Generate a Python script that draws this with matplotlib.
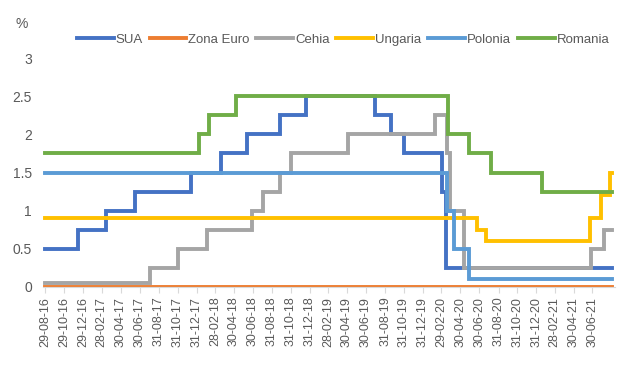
import matplotlib
matplotlib.use("Agg")
import matplotlib.pyplot as plt
import pandas as pd

# ---- data: step change dates and policy rates (%) ----
start_date = "2016-08-29"
end_date = "2021-08-31"

sua_dates = ["2016-08-29", "2016-12-14", "2017-03-15", "2017-06-14", "2017-12-13",
             "2018-03-21", "2018-06-13", "2018-09-26", "2018-12-19", "2019-07-31",
             "2019-09-18", "2019-10-30", "2020-03-03", "2020-03-16"]
sua_vals = [0.5, 0.75, 1.0, 1.25, 1.5, 1.75, 2.0, 2.25, 2.5, 2.25, 2.0, 1.75, 1.25, 0.25]

euro_dates = ["2016-08-29"]
euro_vals = [0.0]

cehia_dates = ["2016-08-29", "2017-08-03", "2017-11-02", "2018-02-01", "2018-06-27",
               "2018-08-02", "2018-09-27", "2018-11-02", "2019-05-03", "2020-02-07",
               "2020-03-17", "2020-03-27", "2020-05-11", "2021-06-24", "2021-08-06"]
cehia_vals = [0.05, 0.25, 0.5, 0.75, 1.0, 1.25, 1.5, 1.75, 2.0, 2.25, 1.75, 1.0, 0.25, 0.5, 0.75]

ungaria_dates = ["2016-08-29", "2020-06-24", "2020-07-22", "2021-06-23", "2021-07-28", "2021-08-25"]
ungaria_vals = [0.9, 0.75, 0.6, 0.9, 1.2, 1.5]

polonia_dates = ["2016-08-29", "2020-03-18", "2020-04-09", "2020-05-29"]
polonia_vals = [1.5, 1.0, 0.5, 0.1]

romania_dates = ["2016-08-29", "2018-01-09", "2018-02-08", "2018-05-08", "2020-03-20",
                 "2020-05-29", "2020-08-06", "2021-01-18"]
romania_vals = [1.75, 2.0, 2.25, 2.5, 2.0, 1.75, 1.5, 1.25]

tick_labels = ["29-08-16", "29-10-16", "29-12-16", "28-02-17", "30-04-17", "30-06-17",
               "31-08-17", "31-10-17", "31-12-17", "28-02-18", "30-04-18", "30-06-18",
               "31-08-18", "31-10-18", "31-12-18", "28-02-19", "30-04-19", "30-06-19",
               "31-08-19", "31-10-19", "31-12-19", "29-02-20", "30-04-20", "30-06-20",
               "31-08-20", "31-10-20", "31-12-20", "28-02-21", "30-04-21", "30-06-21"]

series = [
    ("SUA", sua_dates, sua_vals, "#4472C4"),
    ("Zona Euro", euro_dates, euro_vals, "#ED7D31"),
    ("Cehia", cehia_dates, cehia_vals, "#A5A5A5"),
    ("Ungaria", ungaria_dates, ungaria_vals, "#FFC000"),
    ("Polonia", polonia_dates, polonia_vals, "#5B9BD5"),
    ("Romania", romania_dates, romania_vals, "#70AD47"),
]

plt.rcParams['font.family'] = ['Liberation Sans', 'DejaVu Sans']
txt_color = "#595959"

W, H = 630, 377
L_px, R_px = 43, 615
fig = plt.figure(figsize=(6.3, 3.77), dpi=100)
ax = fig.add_axes([L_px / W, 1 - 287 / H, (R_px - L_px) / W, (287 - 58) / H])

end = pd.Timestamp(end_date)
handles = []
for name, d, v, c in series:
    x = list(pd.to_datetime(d)) + [end]
    y = list(v) + [v[-1]]
    h, = ax.plot(x, y, drawstyle="steps-post", color=c, lw=2.8, label=name,
                 solid_joinstyle="miter")
    handles.append(h)

ax.set_ylim(0, 3)
ax.set_yticks([0, 0.5, 1, 1.5, 2, 2.5, 3])
ax.set_yticklabels(["0", "0.5", "1", "1.5", "2", "2.5", "3"])

# x scale: first tick at 45 px, 0.31 px per day
px_per_day = 0.31
t0 = pd.Timestamp(start_date)
ax.set_xlim(t0 - pd.Timedelta(days=(45 - L_px) / px_per_day),
            t0 + pd.Timedelta(days=(R_px - 45) / px_per_day))

tick_dates = pd.to_datetime(tick_labels, format="%d-%m-%y")
ax.set_xticks(tick_dates)
ax.set_xticklabels(tick_labels, rotation=90)

for s in ["top", "right", "left"]:
    ax.spines[s].set_visible(False)
ax.spines["bottom"].set_color("#D9D9D9")
ax.tick_params(axis="y", length=0, labelsize=10, labelcolor=txt_color, pad=8)
ax.tick_params(axis="x", length=4, color="#D9D9D9", labelsize=9, labelcolor=txt_color, pad=3)

fig.text(22 / W, 1 - 24 / H, "%", fontsize=10, color=txt_color, ha="center", va="center")

fig.legend(handles=handles, loc="center", bbox_to_anchor=(343 / W, 1 - 40 / H), ncol=6,
           frameon=False, fontsize=9.5, handlelength=2.8, handletextpad=0.15,
           columnspacing=0.5, labelcolor=txt_color)

fig.savefig("out.png", dpi=100)
